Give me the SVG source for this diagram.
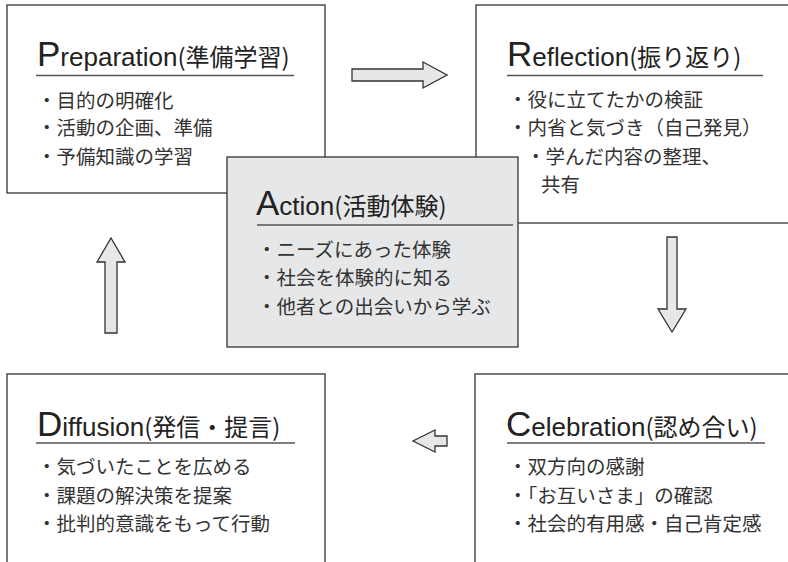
<svg xmlns="http://www.w3.org/2000/svg" width="788" height="562" viewBox="0 0 788 562">
<style>
.box{fill:#fff;stroke:#333;stroke-width:1.3}
.abox{fill:#e6e7e8;stroke:#333;stroke-width:1.3}
.ttl{font-family:"Liberation Sans",Arial,sans-serif;font-size:26px;fill:#222}
.cap{font-size:35px}
.tj{font-family:"Noto Sans CJK JP","Noto Sans",sans-serif;font-size:24px}
.ul{stroke:#555;stroke-width:1.5}
.b{font-family:"Noto Sans CJK JP",sans-serif;font-size:19.5px;fill:#333}
.arr{fill:#e6e7e8;stroke:#333;stroke-width:1.3;stroke-linejoin:miter}
</style>
<rect width="788" height="562" fill="#fff"/>
<g id="preparation">
<rect class="box" x="7" y="5" width="318" height="188"/>
<text class="ttl" x="37" y="66"><tspan class="cap">P</tspan>reparation<tspan class="tj">(準備学習)</tspan></text>
<line class="ul" x1="36" y1="75.5" x2="294" y2="75.5"/>
<text class="b" x="37" y="108">・目的の明確化</text>
<text class="b" x="37" y="135">・活動の企画、準備</text>
<text class="b" x="37" y="164">・予備知識の学習</text>
</g>
<g id="reflection">
<rect class="box" x="476" y="5" width="330" height="218"/>
<text class="ttl" x="507" y="66"><tspan class="cap">R</tspan>eflection<tspan class="tj">(振り返り)</tspan></text>
<line class="ul" x1="507" y1="75.5" x2="763" y2="75.5"/>
<text class="b" x="508" y="107">・役に立てたかの検証</text>
<text class="b" x="508" y="135">・内省と気づき（自己発見）</text>
<text class="b" x="526" y="164">・学んだ内容の整理、</text>
<text class="b" x="541" y="192">共有</text>
</g>
<g id="action">
<rect class="abox" x="227" y="157" width="291" height="190"/>
<text class="ttl" x="256" y="215"><tspan class="cap">A</tspan>ction<tspan class="tj">(活動体験)</tspan></text>
<line class="ul" x1="257" y1="225" x2="513" y2="225"/>
<text class="b" x="257" y="257">・ニーズにあった体験</text>
<text class="b" x="257" y="285">・社会を体験的に知る</text>
<text class="b" x="257" y="314">・他者との出会いから学ぶ</text>
</g>
<g id="diffusion">
<rect class="box" x="7" y="374" width="318" height="200"/>
<text class="ttl" x="37" y="436"><tspan class="cap">D</tspan>iffusion<tspan class="tj">(発信・提言)</tspan></text>
<line class="ul" x1="36" y1="443" x2="295" y2="443"/>
<text class="b" x="37" y="474">・気づいたことを広める</text>
<text class="b" x="37" y="503">・課題の解決策を提案</text>
<text class="b" x="37" y="531">・批判的意識をもって行動</text>
</g>
<g id="celebration">
<rect class="box" x="475" y="374" width="330" height="200"/>
<text class="ttl" x="506" y="436"><tspan class="cap">C</tspan>elebration<tspan class="tj">(認め合い)</tspan></text>
<line class="ul" x1="507" y1="443" x2="765" y2="443"/>
<text class="b" x="508" y="474">・双方向の感謝</text>
<text class="b" x="508" y="503">・「お互いさま」の確認</text>
<text class="b" x="508" y="531">・社会的有用感・自己肯定感</text>
</g>
<g id="connectors">
<polygon class="arr" points="352,69 423,69 423,62 447,75 423,88 423,81 352,81"/>
<polygon class="arr" points="667,237 677,237 677,309 686,309 672,332 658,309 667,309"/>
<polygon class="arr" points="447,436 435,436 435,430 413,441 435,452 435,446 447,446"/>
<polygon class="arr" points="105,333 105,262 97,262 111,238 125,262 117,262 117,333"/>
</g>
</svg>
